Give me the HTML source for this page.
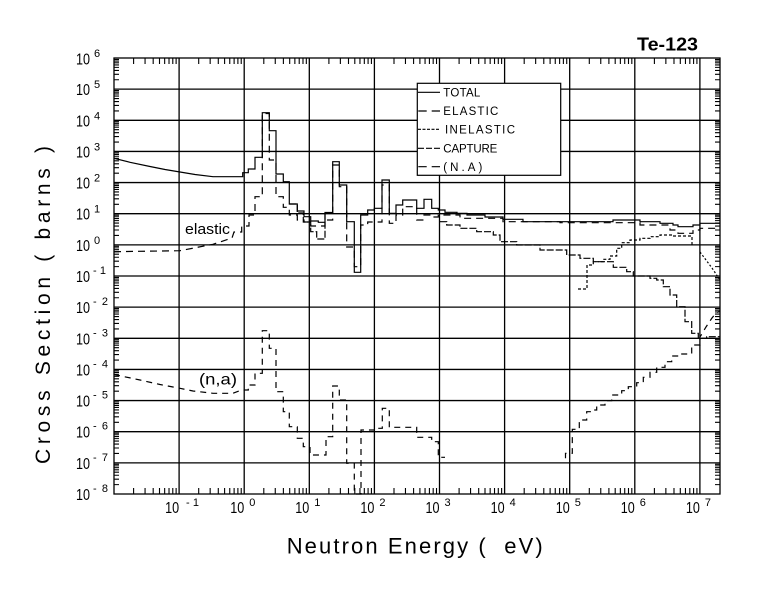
<!DOCTYPE html>
<html>
<head>
<meta charset="utf-8">
<style>
  html, body { margin: 0; padding: 0; background: #fff; }
  svg { display: block; }
  text { font-family: "Liberation Sans", sans-serif; fill: #000; }
</style>
</head>
<body>
<svg width="780" height="590" viewBox="0 0 780 590" xmlns="http://www.w3.org/2000/svg">
  <defs>
    <path id="xt" d="M19.6 58v6M31.06 58v6M39.19 58v6M45.5 58v6M50.66 58v6M55.02 58v6M58.79 58v6M62.12 58v6M19.6 494v-6M31.06 494v-6M39.19 494v-6M45.5 494v-6M50.66 494v-6M55.02 494v-6M58.79 494v-6M62.12 494v-6" stroke="#000" stroke-width="1.1" fill="none"/>
    <path id="yt" d="M114 -9.38h5M114 -14.86h5M114 -18.75h5M114 -21.77h5M114 -24.23h5M114 -26.32h5M114 -28.12h5M114 -29.72h5M720 -9.38h-5M720 -14.86h-5M720 -18.75h-5M720 -21.77h-5M720 -24.23h-5M720 -26.32h-5M720 -28.12h-5M720 -29.72h-5" stroke="#000" stroke-width="1.1" fill="none"/>
  </defs>

  <rect width="780" height="590" fill="#fff"/>

  <!-- grid -->
  <path d="M179.1 58V494M244.2 58V494M309.3 58V494M374.4 58V494M439.5 58V494M504.6 58V494M569.7 58V494M634.8 58V494M699.9 58V494
           M114 89.14H720M114 120.29H720M114 151.43H720M114 182.57H720M114 213.71H720M114 244.86H720M114 276H720M114 307.14H720M114 338.29H720M114 369.43H720M114 400.57H720M114 431.71H720M114 462.86H720"
        stroke="#000" stroke-width="1.3" fill="none"/>
  <!-- frame -->
  <rect x="114" y="58" width="606" height="436" fill="none" stroke="#000" stroke-width="1.3"/>

  <!-- minor ticks -->
  <use href="#xt" x="114"/><use href="#xt" x="179.1"/><use href="#xt" x="244.2"/><use href="#xt" x="309.3"/><use href="#xt" x="374.4"/><use href="#xt" x="439.5"/><use href="#xt" x="504.6"/><use href="#xt" x="569.7"/><use href="#xt" x="634.8"/>
  <use href="#yt" y="494"/><use href="#yt" y="462.86"/><use href="#yt" y="431.71"/><use href="#yt" y="400.57"/><use href="#yt" y="369.43"/><use href="#yt" y="338.29"/><use href="#yt" y="307.14"/><use href="#yt" y="276"/><use href="#yt" y="244.86"/><use href="#yt" y="213.71"/><use href="#yt" y="182.57"/><use href="#yt" y="151.43"/><use href="#yt" y="120.29"/><use href="#yt" y="89.14"/>

  <!-- Y tick labels -->
  <g font-size="16">
    <text x="76" y="64.3" textLength="14" lengthAdjust="spacingAndGlyphs">10</text>
    <text x="76" y="95.1" textLength="14" lengthAdjust="spacingAndGlyphs">10</text>
    <text x="76" y="126.3" textLength="14" lengthAdjust="spacingAndGlyphs">10</text>
    <text x="76" y="157.4" textLength="14" lengthAdjust="spacingAndGlyphs">10</text>
    <text x="76" y="188.6" textLength="14" lengthAdjust="spacingAndGlyphs">10</text>
    <text x="76" y="219.7" textLength="14" lengthAdjust="spacingAndGlyphs">10</text>
    <text x="76" y="250.9" textLength="14" lengthAdjust="spacingAndGlyphs">10</text>
    <text x="76" y="282" textLength="14" lengthAdjust="spacingAndGlyphs">10</text>
    <text x="76" y="313.1" textLength="14" lengthAdjust="spacingAndGlyphs">10</text>
    <text x="76" y="344.3" textLength="14" lengthAdjust="spacingAndGlyphs">10</text>
    <text x="76" y="375.4" textLength="14" lengthAdjust="spacingAndGlyphs">10</text>
    <text x="76" y="406.6" textLength="14" lengthAdjust="spacingAndGlyphs">10</text>
    <text x="76" y="437.7" textLength="14" lengthAdjust="spacingAndGlyphs">10</text>
    <text x="76" y="468.9" textLength="14" lengthAdjust="spacingAndGlyphs">10</text>
    <text x="76" y="500" textLength="14" lengthAdjust="spacingAndGlyphs">10</text>
  </g>
  <g font-size="11">
    <text x="94" y="57">6</text>
    <text x="94" y="88.1">5</text>
    <text x="94" y="119.3">4</text>
    <text x="94" y="150.4">3</text>
    <text x="94" y="181.6">2</text>
    <text x="94" y="212.7">1</text>
    <text x="94" y="243.9">0</text>
    <text x="93" y="274" textLength="13" lengthAdjust="spacing">-1</text>
    <text x="93" y="305.1" textLength="15" lengthAdjust="spacing">-2</text>
    <text x="93" y="336.3" textLength="15" lengthAdjust="spacing">-3</text>
    <text x="93" y="367.4" textLength="15" lengthAdjust="spacing">-4</text>
    <text x="93" y="398.6" textLength="15" lengthAdjust="spacing">-5</text>
    <text x="93" y="429.7" textLength="15" lengthAdjust="spacing">-6</text>
    <text x="93" y="460.9" textLength="15" lengthAdjust="spacing">-7</text>
    <text x="93" y="492" textLength="15" lengthAdjust="spacing">-8</text>
  </g>

  <!-- X tick labels -->
  <g font-size="16">
    <text x="165.1" y="513" textLength="14" lengthAdjust="spacingAndGlyphs">10</text>
    <text x="230.2" y="513" textLength="14" lengthAdjust="spacingAndGlyphs">10</text>
    <text x="295.3" y="513" textLength="14" lengthAdjust="spacingAndGlyphs">10</text>
    <text x="360.4" y="513" textLength="14" lengthAdjust="spacingAndGlyphs">10</text>
    <text x="425.5" y="513" textLength="14" lengthAdjust="spacingAndGlyphs">10</text>
    <text x="490.6" y="513" textLength="14" lengthAdjust="spacingAndGlyphs">10</text>
    <text x="555.7" y="513" textLength="14" lengthAdjust="spacingAndGlyphs">10</text>
    <text x="620.8" y="513" textLength="14" lengthAdjust="spacingAndGlyphs">10</text>
    <text x="685.9" y="513" textLength="14" lengthAdjust="spacingAndGlyphs">10</text>
  </g>
  <g font-size="11">
    <text x="186" y="506" textLength="13" lengthAdjust="spacing">-1</text>
    <text x="249.2" y="506">0</text>
    <text x="314.3" y="506">1</text>
    <text x="379.4" y="506">2</text>
    <text x="444.5" y="506">3</text>
    <text x="509.6" y="506">4</text>
    <text x="574.7" y="506">5</text>
    <text x="639.8" y="506">6</text>
    <text x="704.9" y="506">7</text>
  </g>

  <!-- Axis titles -->
  <text x="286.7" y="553.3" font-size="22" textLength="256" lengthAdjust="spacing" xml:space="preserve">Neutron Energy (  eV)</text>
  <text transform="translate(50,305) rotate(-90)" text-anchor="middle" font-size="21" textLength="318" lengthAdjust="spacing">Cross Section ( barns )</text>

  <!-- Title -->
  <text x="637" y="50.7" font-size="18" font-weight="bold" textLength="61" lengthAdjust="spacingAndGlyphs">Te-123</text>

  <!-- Curve labels -->
  <text x="185" y="234" font-size="15" textLength="45" lengthAdjust="spacingAndGlyphs">elastic</text>
  <text x="199" y="384.7" font-size="16" textLength="38" lengthAdjust="spacingAndGlyphs">(n,a)</text>

  <!-- TOTAL -->
  <polyline fill="none" stroke="#000" stroke-width="1.2" points="114,158.3 130,162.3 150,166.5 165,169.5 180,172 195,174.5 213,176.7 242.7,176.7 242.7,172.7 248.3,172.7 248.3,169 255,169 255,157.3 262.3,157.3 262.3,112.7 269.3,112.7 269.3,130.7 276,130.7 276,174 283.3,174 283.3,181.7 289.3,181.7 289.3,204 297.3,204 297.3,211 304,211 304,216.7 310.7,216.7 310.7,221 318.3,221 318.3,222.3 325,222.3 325,212.5 332.7,212.5 332.7,161.7 339.3,161.7 339.3,185 346.7,185 346.7,221.7 354.3,221.7 354.3,272.3 360.7,272.3 360.7,215 367.7,215 367.7,210 374.3,210 374.3,208.3 382,208.3 382,180 389.3,180 389.3,213.3 396,213.3 396,205 402.7,205 402.7,200 416.7,200 416.7,208.3 424,208.3 424,199.3 431.7,199.3 431.7,208.3 438.3,208.3 438.3,210 445,210 445,212.3 457,212.3 457,213.3 467,213.3 467,215 485,215 485,217 503,217 503,219.3 523,219.3 523,221.7 613,221.7 613,220 640,220 640,221.7 660,221.7 660,223.3 673,223.3 673,225 678,225 678,226.7 693,226.7 693,225 700,225 700,223.3 720,223.3"/>

  <!-- ELASTIC -->
  <polyline fill="none" stroke="#000" stroke-width="1.2" stroke-dasharray="7 5" points="114,251.7 180,250.7 213,244.3 232,238 234,232 241.7,232 241.7,226 249,226 249,215 255,215 255,196.7 262.3,196.7 262.3,113.5 269.3,113.5 269.3,160 276,160 276,196.7 283.3,196.7 283.3,207.3 289.3,207.3 289.3,215 297.3,215 297.3,220 304,220 304,222 310.7,222 310.7,226 325,226 325,220 332.7,220 332.7,165 339.3,165 339.3,186.7 346.7,186.7 346.7,247 354.3,247 354.3,266.7 360.7,266.7 360.7,225 367.7,225 367.7,222 382,222 382,185 389.3,185 389.3,223.3 396,223.3 396,215 402.7,215 402.7,206.7 416.7,206.7 416.7,220 424,220 424,215 431.7,215 431.7,217 438.3,217 438.3,215 460,215 460,218.3 503,218.3 503,221.7 560,221.7 560,222.7 640,222.7 640,225 670,225 670,230 678,230 678,233.3 693,233.3 693,230 700,230 700,228.3 720,228.3"/>

  <!-- CAPTURE -->
  <polyline fill="none" stroke="#000" stroke-width="1.2" stroke-dasharray="7 2" points="289.3,204 297.3,204 297.3,213 303.3,213 303.3,222 310.7,222 310.7,231.7 316.7,231.7 316.7,239 325,239 325,213"/>
  <polyline fill="none" stroke="#000" stroke-width="1.2" stroke-dasharray="7 2" points="440,221.7 446.7,221.7 446.7,225 460,225 460,228.3 476.7,228.3 476.7,231.7 493.3,231.7 493.3,235 500,235 500,241.7 516.7,241.7 516.7,245 540,245 540,250 566.7,250 566.7,255 580,255 580,258.3 593.3,258.3 593.3,261.7 613.3,261.7 613.3,267.3 626.7,267.3 626.7,271.7 633.3,271.7 633.3,276 650,276 650,278.3 656.7,278.3 656.7,280 663.3,280 663.3,286.7 670,286.7 670,295 676.7,295 676.7,306.7 685,306.7 685,321.7 691.7,321.7 691.7,333.3 698.3,333.3 698.3,338.3 706.7,338.3 706.7,336.7 720,336.7"/>

  <!-- INELASTIC -->
  <polyline fill="none" stroke="#000" stroke-width="1.2" stroke-dasharray="3 2" points="578,289 587,289 587,265 593.3,265 593.3,261.7 603.3,261.7 603.3,259.3 610,259.3 610,256 616.7,256 616.7,248.3 621.7,248.3 621.7,242.7 630,242.7 630,240 640,240 640,238.3 650,238.3 650,236.7 660,236.7 660,235 673,235 673,236 692,236 692,245"/>
  <polyline fill="none" stroke="#000" stroke-width="1.2" stroke-dasharray="2 2" points="700,252 706,260 712,268 718,277 720,280"/>

  <!-- (N,A) -->
  <polyline fill="none" stroke="#000" stroke-width="1.2" stroke-dasharray="6 5" points="114,374.5 140,380 160,384.5 180,388.3 193,391 213,393.3 233,393.3 241.7,390 248.3,390 248.3,385 255,385 255,373.3 262.3,373.3 262.3,330.7 269.3,330.7 269.3,348.3 276,348.3 276,391.7 283.3,391.7 283.3,411.7 289.3,411.7 289.3,426.7 297.3,426.7 297.3,438.3 303.3,438.3 303.3,446.7 310,446.7 310,455 326,455 326,436.7 332.7,436.7 332.7,386 339.3,386 339.3,400 346.7,400 346.7,463.3 354.3,463.3 354.3,494 361,494 361,430 374.3,430 374.3,428.3 382.3,428.3 382.3,408.3 389.3,408.3 389.3,427.3 416.7,427.3 416.7,437.3 431.7,437.3 431.7,441.7 438.3,441.7 438.3,457.3 445,457.3"/>
  <polyline fill="none" stroke="#000" stroke-width="1.2" stroke-dasharray="6 5" points="565.5,458.3 565.5,453.3 572.3,453.3 572.3,429.3 579.3,429.3 579.3,420 586.7,420 586.7,411.7 591.7,411.7 591.7,410 596.7,410 596.7,405 605,405 605,400.7 611.7,400.7 611.7,395 621.7,395 621.7,390.7 628.3,390.7 628.3,386.7 636.7,386.7 636.7,382.7 643.3,382.7 643.3,377.3 650,377.3 650,372.3 656.7,372.3 656.7,367.3 665,367.3 665,361.7 671.7,361.7 671.7,356 678.3,356 678.3,354 691.7,354 691.7,345 700,345 700,337 706,327 712,318 716,313 720,311"/>

  <!-- Legend -->
  <rect x="417.3" y="83.3" width="143.4" height="92" fill="#fff" stroke="#000" stroke-width="1.2"/>
  <path d="M418 92.3H440" stroke="#000" stroke-width="1.2"/>
  <path d="M418.3 111H426.7M431.7 111H440" stroke="#000" stroke-width="1.2"/>
  <path d="M418 129.3H440" stroke="#000" stroke-width="1.2" stroke-dasharray="3 1.5"/>
  <path d="M418 148.3H440" stroke="#000" stroke-width="1.2" stroke-dasharray="6 2"/>
  <path d="M418.3 166.7H426.7M431.7 166.7H440" stroke="#000" stroke-width="1.2"/>
  <g font-size="11.5">
    <text x="443.3" y="96.7" textLength="37" lengthAdjust="spacing">TOTAL</text>
    <text x="443.3" y="115" textLength="55" lengthAdjust="spacing">ELASTIC</text>
    <text x="445" y="133.7" textLength="70" lengthAdjust="spacing">INELASTIC</text>
    <text x="443.3" y="152.3" textLength="54" lengthAdjust="spacing">CAPTURE</text>
    <text x="443.3" y="171" textLength="39" lengthAdjust="spacing">(N.A)</text>
  </g>
</svg>
</body>
</html>
